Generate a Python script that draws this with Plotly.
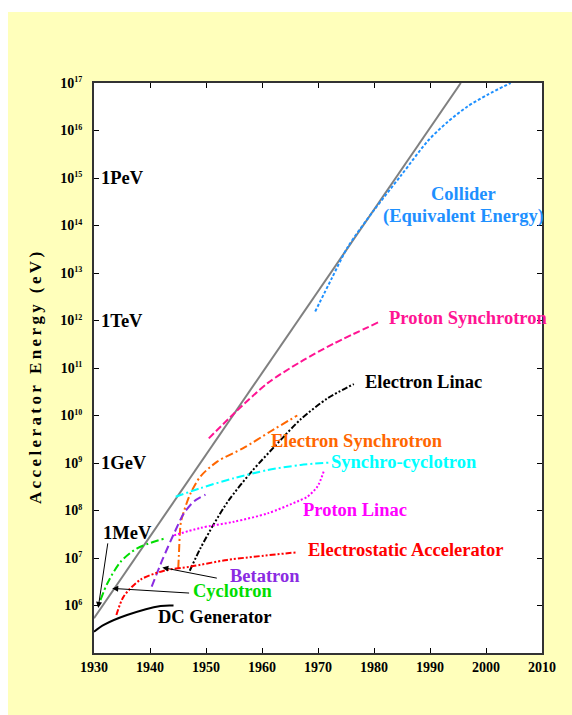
import plotly.graph_objects as go

# ---------------- data (year, energy in eV) ----------------
livingston_years = [1930.0, 1995.5]
livingston_energy = [5.4e5, 1.0e17]

collider_years = [1969.5, 1972.5, 1975.3, 1980.0, 1984.8, 1989.6, 1993.1, 1996.7, 2000.3, 2004.4]
collider_energy = [1.55e12, 7.9e12, 3.5e13, 2.1e14, 1.12e15, 6.0e15, 1.5e16, 3.2e16, 5.7e16, 1.0e17]

psync_years = [1950.5, 1955.0, 1961.0, 1966.9, 1972.9, 1980.9]
psync_energy = [3.3e9, 1.1e10, 4.8e10, 1.35e11, 3.3e11, 9.3e11]

elinac_years = [1947.1, 1949.0, 1951.4, 1954.0, 1958.0, 1963.6, 1967.0, 1971.7, 1976.4]
elinac_energy = [5.4e6, 1.6e7, 5.2e7, 1.6e8, 6.3e8, 3.3e9, 8.5e9, 2.3e10, 4.6e10]

esync_years = [1945.05, 1945.15, 1945.5, 1946.1, 1947.25, 1949.0, 1952.0, 1956.8, 1961.5, 1966.3]
esync_energy = [6.2e6, 1.1e7, 5.5e7, 1.0e8, 2.3e8, 5.2e8, 1.07e9, 2.1e9, 4.6e9, 1.0e10]

sc_years = [1944.6, 1949.0, 1955.0, 1961.0, 1966.9, 1972.0]
sc_energy = [1.95e8, 2.95e8, 4.8e8, 7.1e8, 9.1e8, 1.02e9]

plinac_years = [1944.3, 1949.0, 1955.0, 1961.0, 1966.3, 1968.1, 1969.9, 1971.1]
plinac_energy = [3.0e7, 4.3e7, 5.8e7, 8.7e7, 1.55e8, 1.95e8, 3.2e8, 7.1e8]

betatron_years = [1940.3, 1942.2, 1944.3, 1946.05, 1947.85, 1949.9]
betatron_energy = [2.5e6, 9.1e6, 3.3e7, 8.7e7, 1.55e8, 2.15e8]

estatic_years = [1934.0, 1935.3, 1938.3, 1942.5, 1947.25, 1953.8, 1966.3]
estatic_energy = [6.3e5, 1.55e6, 3.5e6, 5.4e6, 6.6e6, 9.1e6, 1.32e7]

cyclotron_years = [1931.15, 1932.4, 1934.75, 1937.7, 1942.5]
cyclotron_energy = [1.3e6, 2.95e6, 8.3e6, 1.6e7, 2.55e7]

dc_years = [1930.0, 1931.75, 1935.9, 1941.9, 1944.2]
dc_energy = [2.8e5, 3.9e5, 6.3e5, 9.8e5, 1.0e6]

x_ticks = [1930, 1940, 1950, 1960, 1970, 1980, 1990, 2000, 2010]
y_exponents = list(range(5, 18))

SERIF = "Liberation Serif, Times New Roman, serif"

fig = go.Figure()

def add_line(xs, ys, color, dash, width=2, shape="spline"):
    fig.add_trace(go.Scatter(x=xs, y=ys, mode="lines",
                             line=dict(color=color, dash=dash, width=width, shape=shape, smoothing=0.8),
                             hoverinfo="skip", showlegend=False))

add_line(livingston_years, livingston_energy, "#808080", "solid", 2, "linear")
add_line(collider_years, collider_energy, "#1E90FF", "3px,2px")
add_line(psync_years, psync_energy, "#FF1493", "7px,3px")
add_line(elinac_years, elinac_energy, "#000000", "6px,2px,2px,2px,2px,2px")
add_line(esync_years, esync_energy, "#FF6600", "8px,3px,2px,3px")
add_line(sc_years, sc_energy, "#00FFFF", "8px,3px,2px,3px")
add_line(plinac_years, plinac_energy, "#FF00FF", "2px,2px")
add_line(betatron_years, betatron_energy, "#8A2BE2", "8px,4px")
add_line(estatic_years, estatic_energy, "#FF0000", "6px,2px,2px,2px,2px,2px")
add_line(cyclotron_years, cyclotron_energy, "#00DD00", "8px,3px,2px,3px")
add_line(dc_years, dc_energy, "#000000", "solid")

# ---------------- labels ----------------
labels = [
    ("Collider", 1995.9, 14.66, "#1E90FF", "center"),
    ("(Equivalent Energy)", 1995.9, 14.18, "#1E90FF", "center"),
    ("Proton Synchrotron", 1982.3, 12.05, "#FF1493", "left"),
    ("Electron Linac", 1978.0, 10.71, "#000000", "left"),
    ("Electron Synchrotron", 1961.2, 9.46, "#FF6600", "left"),
    ("Synchro-cyclotron", 1971.9, 9.02, "#00FFFF", "left"),
    ("Proton Linac", 1966.9, 8.01, "#FF00FF", "left"),
    ("Electrostatic Accelerator", 1967.8, 7.17, "#FF0000", "left"),
    ("Betatron", 1954.0, 6.62, "#8A2BE2", "left"),
    ("Cyclotron", 1947.25, 6.30, "#00DD00", "left"),
    ("DC Generator", 1941.0, 5.76, "#000000", "left"),
    ("1MeV", 1931.2, 7.53, "#000000", "left"),
    ("1PeV", 1930.9, 15.0, "#000000", "left"),
    ("1TeV", 1930.9, 12.0, "#000000", "left"),
    ("1GeV", 1930.9, 9.0, "#000000", "left"),
]
for text, x, y, color, anchor in labels:
    fig.add_annotation(x=x, y=y, xref="x", yref="y", text="<b>%s</b>" % text,
                       showarrow=False, xanchor=anchor, yanchor="middle",
                       font=dict(family=SERIF, size=18.5, color=color))

arrows = [
    (1930.75, 5.95, 1932.5, 7.34),   # 1MeV
    (1942.2, 6.80, 1952.2, 6.57),    # Betatron
    (1933.25, 6.36, 1947.25, 6.26),  # Cyclotron
]
for hx, hy, tx, ty in arrows:
    fig.add_annotation(x=hx, y=hy, ax=tx, ay=ty, xref="x", yref="y", axref="x", ayref="y",
                       text="", showarrow=True, arrowhead=2, arrowsize=1.2, arrowwidth=1,
                       arrowcolor="black")

# axis title with letter spacing
title = "\u2009".join("Accelerator Energy (eV)")
fig.add_annotation(x=-0.132, y=0.482, xref="paper", yref="paper", text="<b>%s</b>" % title,
                   textangle=-90, showarrow=False, xanchor="center", yanchor="middle",
                   font=dict(family=SERIF, size=17, color="black"))

# background shapes
fig.add_shape(type="rect", xref="paper", yref="paper", x0=-0.192, x1=1.07, y0=-0.11, y1=1.1246,
              fillcolor="#FFFFBB", line=dict(width=0), layer="below")
fig.add_shape(type="rect", xref="paper", yref="paper", x0=0, x1=1, y0=0, y1=1,
              fillcolor="white", line=dict(width=0), layer="below")

fig.update_xaxes(range=[1930, 2010], tickvals=x_ticks,
                 ticktext=["<b>%d</b>" % v for v in x_ticks],
                 ticks="inside", ticklen=5, tickwidth=1, tickcolor="black",
                 showline=True, linecolor="#333333", linewidth=2, mirror="ticks",
                 showgrid=False, zeroline=False,
                 tickfont=dict(family=SERIF, size=14, color="black"))
fig.update_yaxes(type="log", range=[5, 17], tickvals=[10.0 ** e for e in y_exponents],
                 ticktext=["" if e == 5 else
                           "<b>10<sup><span style='font-size:8px'>%d</span></sup></b>" % e
                           for e in y_exponents],
                 ticks="inside", ticklen=5, tickwidth=1, tickcolor="black",
                 showline=True, linecolor="#333333", linewidth=2, mirror="ticks",
                 showgrid=False, zeroline=False, ticklabelstandoff=7,
                 tickfont=dict(family=SERIF, size=14, color="black"))

fig.update_layout(width=572, height=715, margin=dict(l=94, r=30, t=83, b=62),
                  paper_bgcolor="white", plot_bgcolor="white", showlegend=False)

fig.write_html("out.html")
